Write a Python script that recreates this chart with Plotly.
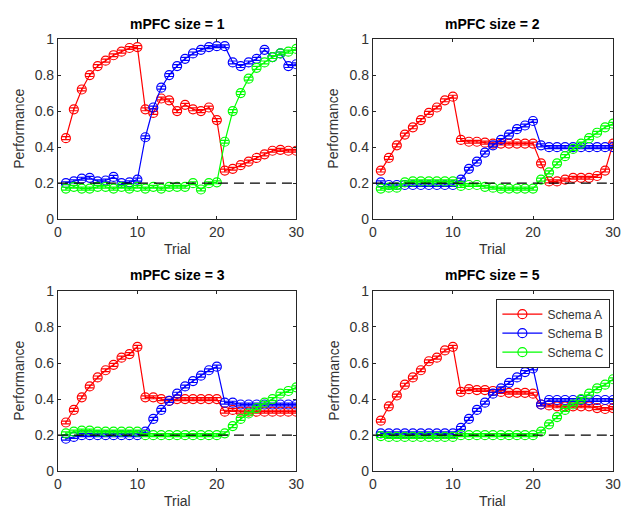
import plotly.graph_objects as go

# Trial index and chance level
trials = list(range(1, 31))
chance_level = 0.2
sem = 0.008  # standard error of the mean (small, drawn as caps)

x_ticks = [0, 10, 20, 30]
y_ticks = [0, 0.2, 0.4, 0.6, 0.8, 1]

series_names = ["Schema A", "Schema B", "Schema C"]
series_colors = ["#ff0000", "#0000ff", "#00ff00"]

# mPFC size = 1
size1_a = [0.45, 0.61, 0.72, 0.80, 0.85, 0.88, 0.91, 0.93, 0.95, 0.955,
           0.61, 0.59, 0.67, 0.66, 0.60, 0.635, 0.61, 0.60, 0.62, 0.55,
           0.27, 0.28, 0.30, 0.32, 0.34, 0.36, 0.38, 0.385, 0.38, 0.38]
size1_b = [0.20, 0.21, 0.225, 0.23, 0.21, 0.215, 0.235, 0.20, 0.205, 0.22,
           0.455, 0.62, 0.73, 0.80, 0.85, 0.89, 0.92, 0.94, 0.955, 0.96,
           0.96, 0.87, 0.85, 0.87, 0.89, 0.94, 0.90, 0.92, 0.85, 0.86]
size1_c = [0.17, 0.18, 0.17, 0.17, 0.18, 0.18, 0.17, 0.18, 0.17, 0.18,
           0.17, 0.18, 0.17, 0.18, 0.18, 0.18, 0.20, 0.165, 0.20, 0.205,
           0.43, 0.60, 0.70, 0.78, 0.84, 0.87, 0.90, 0.92, 0.93, 0.945]

# mPFC size = 2
size2_a = [0.27, 0.34, 0.41, 0.47, 0.51, 0.55, 0.59, 0.62, 0.66, 0.68,
           0.44, 0.43, 0.43, 0.425, 0.42, 0.42, 0.42, 0.42, 0.42, 0.42,
           0.31, 0.21, 0.21, 0.22, 0.23, 0.23, 0.23, 0.24, 0.27, 0.42]
size2_b = [0.205, 0.19, 0.19, 0.19, 0.19, 0.19, 0.19, 0.19, 0.19, 0.19,
           0.22, 0.28, 0.32, 0.37, 0.41, 0.44, 0.47, 0.50, 0.52, 0.545,
           0.41, 0.40, 0.40, 0.40, 0.40, 0.40, 0.40, 0.40, 0.40, 0.40]
size2_c = [0.17, 0.175, 0.175, 0.205, 0.21, 0.21, 0.21, 0.21, 0.21, 0.21,
           0.185, 0.19, 0.19, 0.18, 0.175, 0.17, 0.17, 0.17, 0.17, 0.17,
           0.22, 0.26, 0.31, 0.35, 0.39, 0.42, 0.45, 0.48, 0.51, 0.53]

# mPFC size = 3
size3_a = [0.27, 0.34, 0.41, 0.47, 0.52, 0.56, 0.59, 0.63, 0.65, 0.69,
           0.41, 0.41, 0.40, 0.39, 0.40, 0.40, 0.40, 0.40, 0.40, 0.40,
           0.33, 0.34, 0.33, 0.33, 0.33, 0.33, 0.33, 0.33, 0.33, 0.33]
size3_b = [0.18, 0.19, 0.20, 0.20, 0.20, 0.20, 0.20, 0.20, 0.20, 0.20,
           0.22, 0.29, 0.34, 0.39, 0.43, 0.47, 0.50, 0.53, 0.56, 0.58,
           0.38, 0.38, 0.37, 0.37, 0.37, 0.37, 0.37, 0.37, 0.37, 0.37]
size3_c = [0.21, 0.22, 0.225, 0.225, 0.22, 0.22, 0.22, 0.22, 0.22, 0.22,
           0.20, 0.20, 0.20, 0.20, 0.20, 0.20, 0.20, 0.20, 0.20, 0.20,
           0.21, 0.25, 0.29, 0.32, 0.35, 0.38, 0.40, 0.43, 0.445, 0.465]

# mPFC size = 5
size5_a = [0.28, 0.36, 0.42, 0.48, 0.52, 0.56, 0.61, 0.63, 0.67, 0.69,
           0.44, 0.455, 0.45, 0.45, 0.445, 0.44, 0.435, 0.435, 0.435, 0.43,
           0.37, 0.365, 0.36, 0.36, 0.36, 0.36, 0.36, 0.35, 0.345, 0.35]
size5_b = [0.21, 0.21, 0.21, 0.21, 0.21, 0.21, 0.21, 0.21, 0.21, 0.21,
           0.24, 0.29, 0.34, 0.38, 0.43, 0.46, 0.49, 0.52, 0.55, 0.57,
           0.37, 0.395, 0.395, 0.395, 0.395, 0.395, 0.395, 0.395, 0.395, 0.395]
size5_c = [0.195, 0.19, 0.19, 0.19, 0.19, 0.19, 0.19, 0.19, 0.19, 0.19,
           0.20, 0.20, 0.20, 0.20, 0.20, 0.20, 0.20, 0.20, 0.20, 0.20,
           0.22, 0.26, 0.30, 0.34, 0.37, 0.40, 0.43, 0.46, 0.48, 0.51]

panels = [
    ("mPFC size = 1", [size1_a, size1_b, size1_c]),
    ("mPFC size = 2", [size2_a, size2_b, size2_c]),
    ("mPFC size = 3", [size3_a, size3_b, size3_c]),
    ("mPFC size = 5", [size5_a, size5_b, size5_c]),
]

W, H = 627, 516
x_domains = [[55 / W, 298 / W], [376 / W, 621 / W]]
y_domains = [[1 - 218 / H, 1 - 32 / H], [1 - 478 / H, 1 - 292 / H]]

FONT = "Liberation Sans, Arial, Helvetica, sans-serif"
AXIS_COLOR = "#262626"
TEXT_COLOR = "#333333"

fig = go.Figure()
layout = {}
annotations = []

for i, (title, series) in enumerate(panels):
    row, col = divmod(i, 2)
    idx = "" if i == 0 else str(i + 1)
    xref, yref = "x" + idx, "y" + idx

    for name, color, values in zip(series_names, series_colors, series):
        fig.add_trace(go.Scatter(
            x=trials, y=values, name=name,
            mode="lines+markers",
            line=dict(color=color, width=1.2),
            marker=dict(symbol="circle-open", size=9, color=color,
                        line=dict(width=1.2, color=color)),
            error_y=dict(type="constant", value=sem, color=color,
                         thickness=1.2, width=4),
            xaxis=xref, yaxis=yref,
            showlegend=(i == 3),
        ))

    # chance level
    fig.add_trace(go.Scatter(
        x=[x_ticks[0], x_ticks[-1]], y=[chance_level, chance_level],
        mode="lines", line=dict(color="#000000", width=1.3, dash="10px,6px"),
        xaxis=xref, yaxis=yref, showlegend=False, hoverinfo="skip",
    ))

    axis_common = dict(
        showline=True, linecolor=AXIS_COLOR, linewidth=1, mirror="ticks",
        ticks="inside", ticklen=3, tickcolor=AXIS_COLOR, tickwidth=1,
        showgrid=False, zeroline=False,
        tickfont=dict(family=FONT, size=14, color=TEXT_COLOR),
    )
    layout["xaxis" + idx] = dict(
        axis_common, domain=x_domains[col], range=[0, 30],
        tickvals=x_ticks, anchor=yref,
    )
    layout["yaxis" + idx] = dict(
        axis_common, domain=y_domains[row], range=[0, 1],
        tickvals=y_ticks, anchor=xref,
    )

    xc = sum(x_domains[col]) / 2
    top = y_domains[row][1]
    bottom = y_domains[row][0]
    annotations.append(dict(
        text="<b>%s</b>" % title, x=xc, y=top + 16 / H, xref="paper",
        yref="paper", showarrow=False, xanchor="center", yanchor="middle",
        font=dict(family=FONT, size=14, color="#000000"),
    ))
    annotations.append(dict(
        text="Trial", x=xc, y=bottom - 31 / H, xref="paper", yref="paper",
        showarrow=False, xanchor="center", yanchor="middle",
        font=dict(family=FONT, size=14, color=TEXT_COLOR),
    ))
    annotations.append(dict(
        text="Performance", x=x_domains[col][0] - 40 / W,
        y=(top + bottom) / 2, xref="paper", yref="paper", textangle=-90,
        showarrow=False, xanchor="center", yanchor="middle",
        font=dict(family=FONT, size=14, color=TEXT_COLOR),
    ))

fig.update_layout(
    width=W, height=H,
    margin=dict(l=0, r=0, t=0, b=0),
    paper_bgcolor="white", plot_bgcolor="white",
    annotations=annotations,
    legend=dict(
        x=502 / W, y=1 - 300 / H, xanchor="left", yanchor="top",
        bordercolor=AXIS_COLOR, borderwidth=1, bgcolor="white",
        font=dict(family=FONT, size=12, color=TEXT_COLOR),
        tracegroupgap=0, itemwidth=40,
    ),
    **layout,
)

fig.write_html("out.html")
